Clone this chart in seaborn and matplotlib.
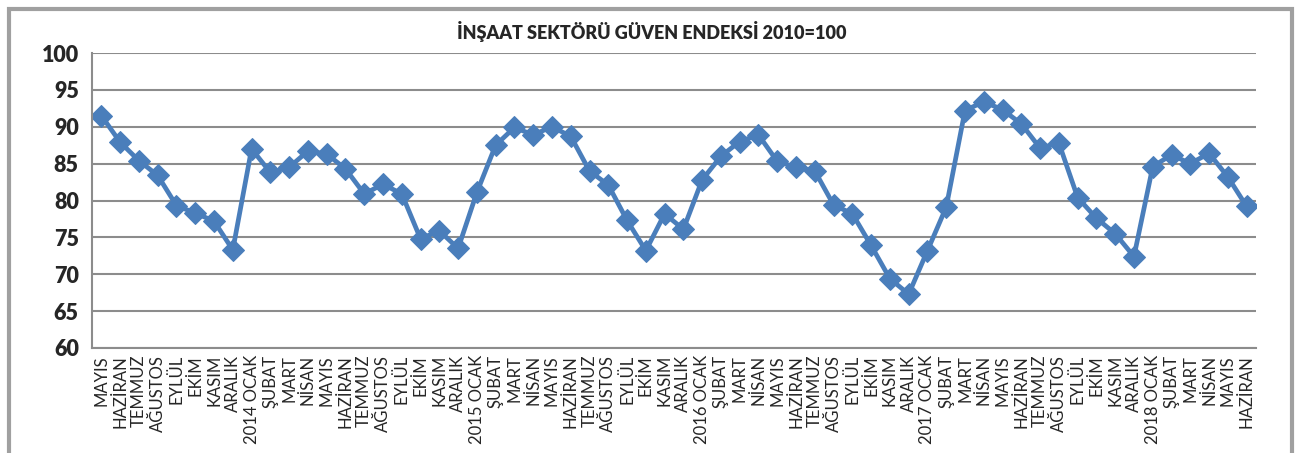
import numpy as np
import pandas as pd
import matplotlib
matplotlib.use("Agg")
import matplotlib.pyplot as plt
from matplotlib.patches import Rectangle
import seaborn as sns

months_2013 = ["MAYIS", "HAZİRAN", "TEMMUZ", "AĞUSTOS", "EYLÜL", "EKİM", "KASIM", "ARALIK"]
full_year = ["OCAK", "ŞUBAT", "MART", "NİSAN", "MAYIS", "HAZİRAN",
             "TEMMUZ", "AĞUSTOS", "EYLÜL", "EKİM", "KASIM", "ARALIK"]

labels = list(months_2013)
for yr in [2014, 2015, 2016, 2017]:
    labels += [f"{yr} OCAK"] + full_year[1:]
labels += ["2018 OCAK"] + full_year[1:6]

vals_2013 = [91.5, 87.9, 85.4, 83.4, 79.3, 78.3, 77.2, 73.3]
vals_2014 = [87.0, 83.8, 84.5, 86.7, 86.3, 84.3, 80.9, 82.2, 80.9, 74.8, 75.9, 73.5]
vals_2015 = [81.1, 87.5, 89.9, 88.9, 90.0, 88.7, 84.0, 82.1, 77.3, 73.2, 78.2, 76.1]
vals_2016 = [82.8, 86.0, 88.0, 88.9, 85.3, 84.5, 84.0, 79.4, 78.2, 73.9, 69.4, 67.3]
vals_2017 = [73.2, 79.1, 92.2, 93.4, 92.3, 90.4, 87.1, 87.8, 80.4, 77.6, 75.5, 72.4]
vals_2018 = [84.6, 86.2, 85.0, 86.4, 83.2, 79.2]

values = vals_2013 + vals_2014 + vals_2015 + vals_2016 + vals_2017 + vals_2018
df = pd.DataFrame({"pos": np.arange(len(values)), "endeks": values})

sns.set_style("white")
plt.rcParams['font.family'] = ['Lato', 'DejaVu Sans']

fig = plt.figure(figsize=(12.97, 4.53), dpi=100)
ax = fig.add_axes([92/1297, 105/453, 1164/1297, 295/453])

# outer chart frame
fig.patches.append(Rectangle((9/1297, -0.05), 1283/1297, 1.0 - 9/453 + 0.05,
                             transform=fig.transFigure, fill=False,
                             edgecolor="#a0a0a0", linewidth=3))

sns.lineplot(data=df, x="pos", y="endeks", ax=ax, color="#4a7ebb", linewidth=3.4,
             marker="D", markersize=11, markeredgecolor="#4a7ebb")

ax.set_ylim(60, 100)
ax.set_yticks(range(60, 101, 5))
ax.set_xlim(-0.5, len(values) - 0.5)
ax.set_xticks(df["pos"])
ax.set_xticklabels(labels, rotation=90, fontsize=12)
ax.set_xticks(np.arange(-0.5, len(values), 1), minor=True)
ax.tick_params(axis="x", which="major", length=0, pad=5)
ax.tick_params(axis="x", which="minor", length=6, width=1.2, color="#8c8c8c")
ax.tick_params(axis="y", length=6, width=1.2, color="#8c8c8c", labelsize=15.5)
for t in ax.get_yticklabels():
    t.set_fontweight("heavy")

ax.yaxis.grid(True, color="#8c8c8c", linewidth=1.5)
ax.set_axisbelow(True)
for s in ["top", "right"]:
    ax.spines[s].set_visible(False)
for s in ["left", "bottom"]:
    ax.spines[s].set_color("#8c8c8c")
    ax.spines[s].set_linewidth(1.5)

ax.set_xlabel("")
ax.set_ylabel("")
fig.text(652/1297, 1 - 32/453, "İNŞAAT SEKTÖRÜ GÜVEN ENDEKSİ 2010=100",
         ha="center", va="center", fontsize=13, fontweight="heavy")

fig.savefig("out.png", dpi=100)
